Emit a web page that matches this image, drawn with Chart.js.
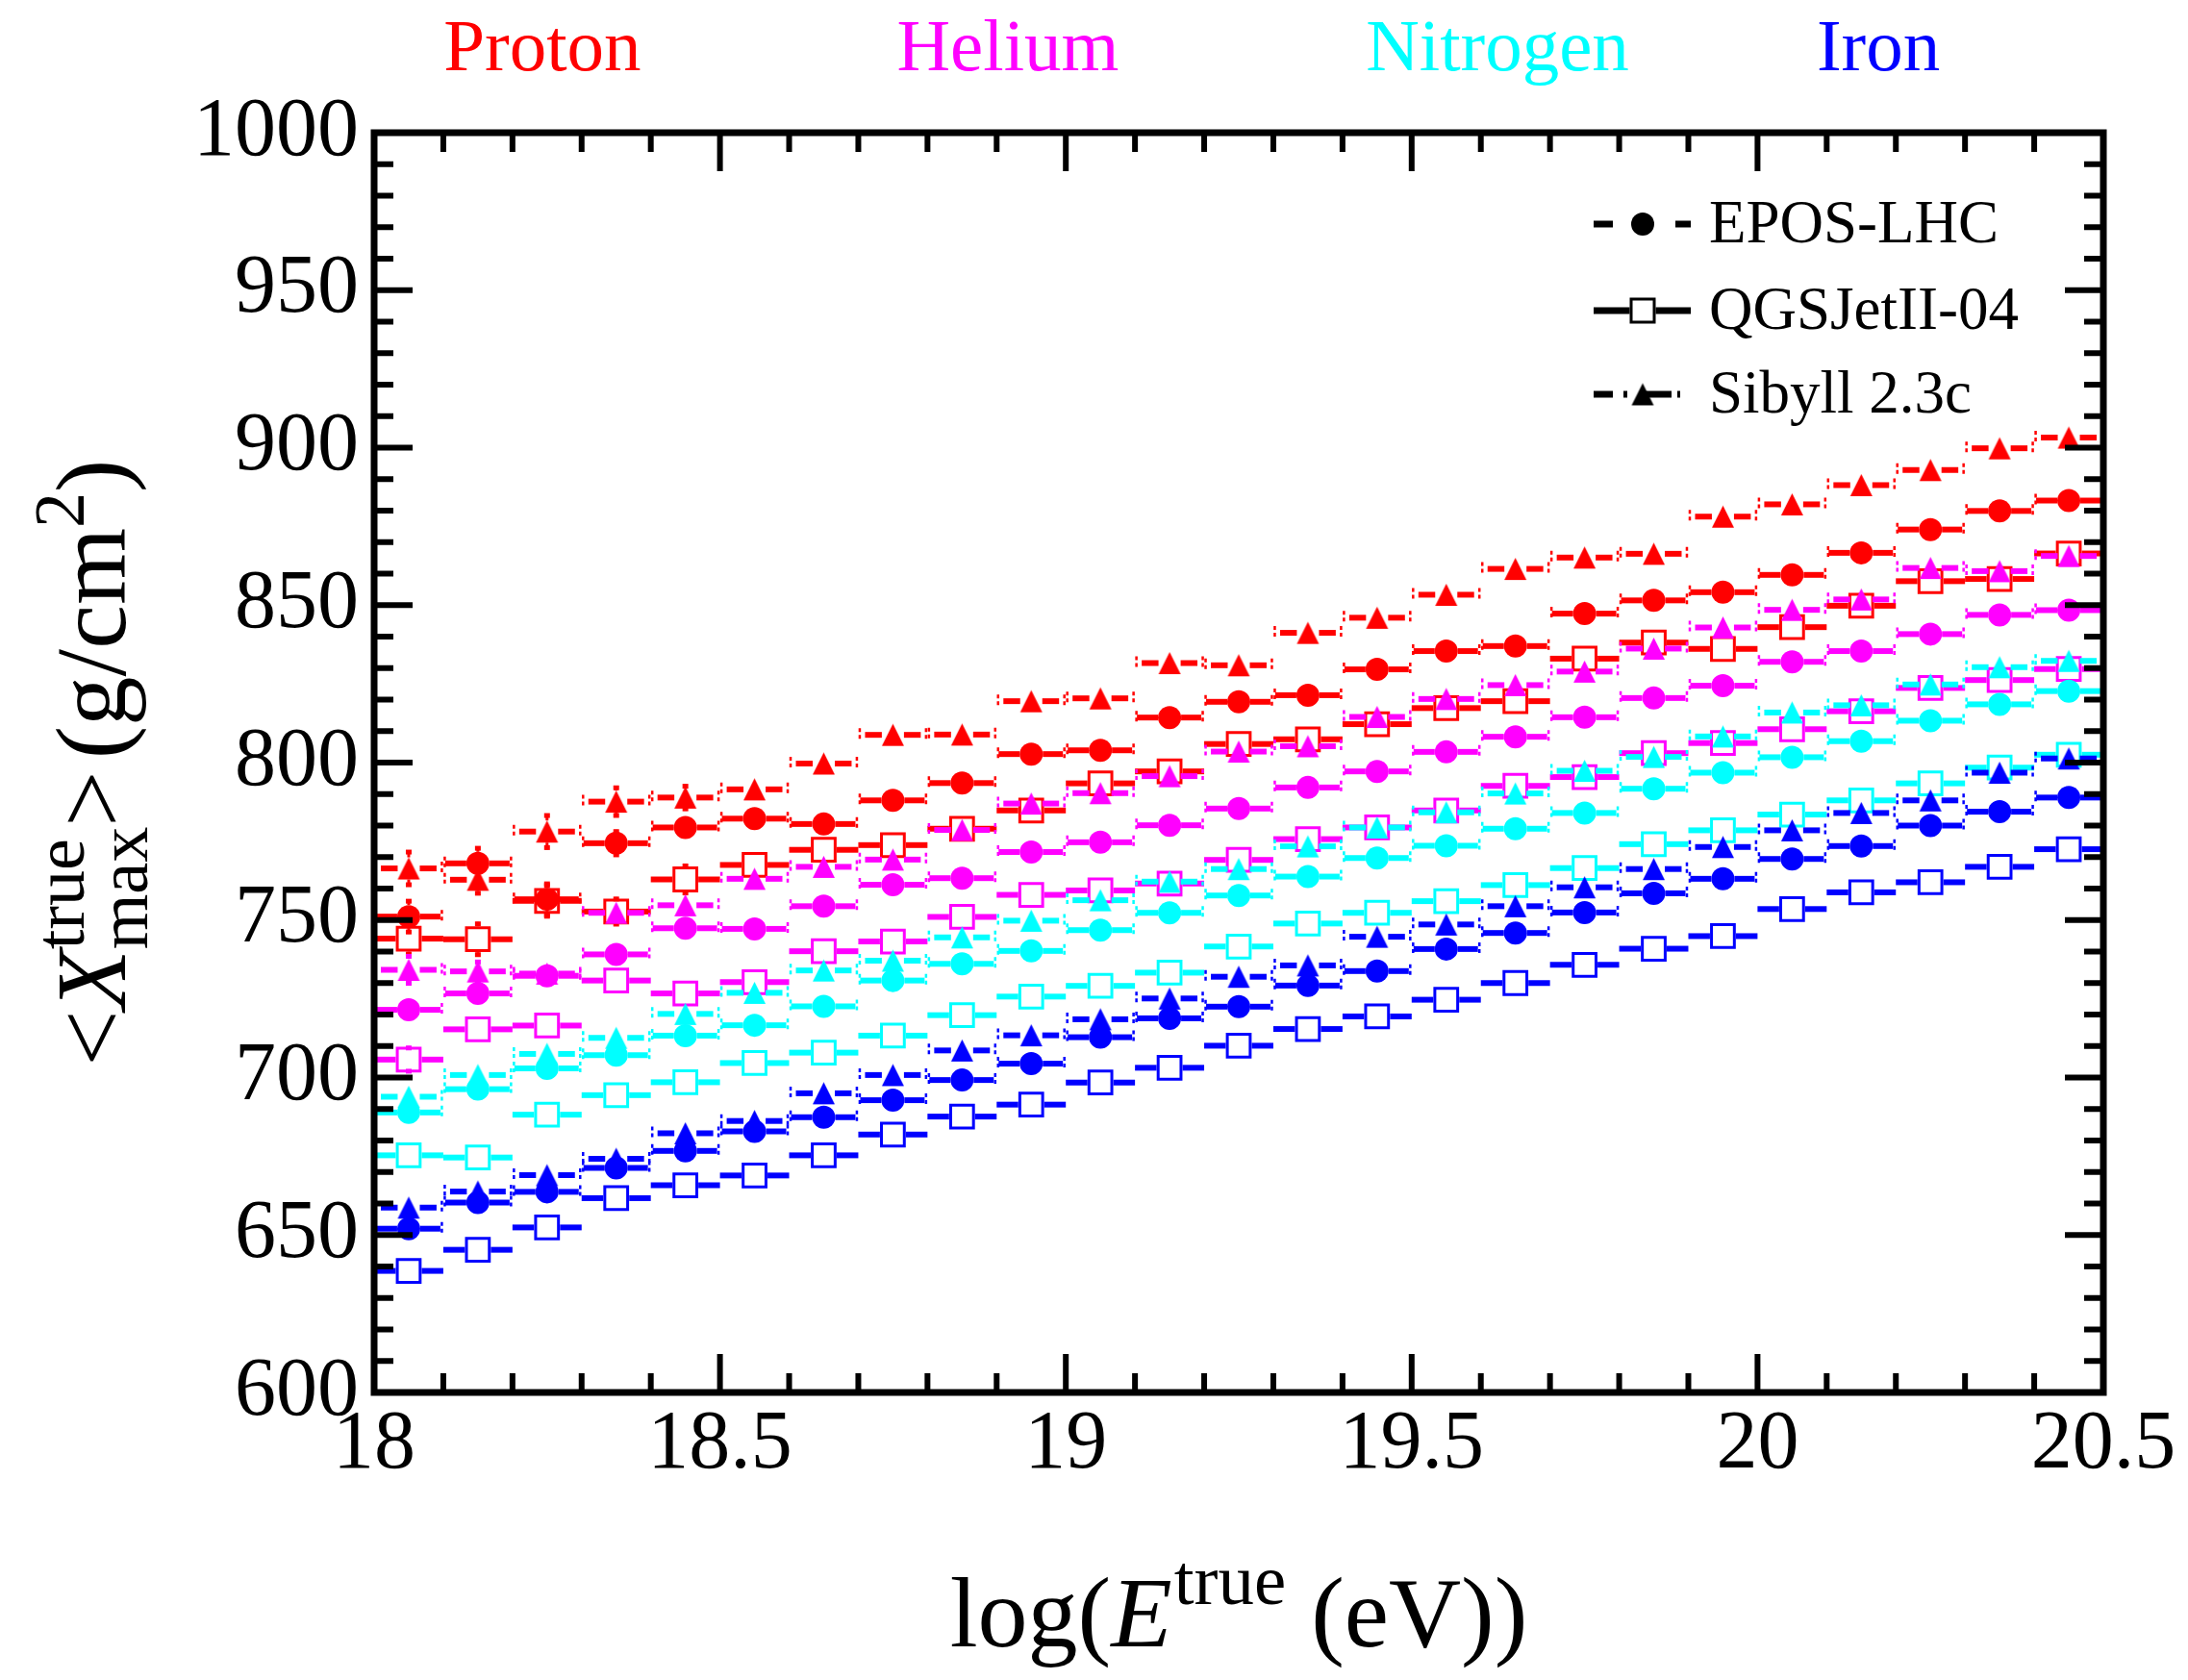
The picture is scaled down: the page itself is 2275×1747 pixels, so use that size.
<!DOCTYPE html>
<html>
<head>
<meta charset="utf-8">
<script src="https://cdn.jsdelivr.net/npm/chart.js@4.4.0/dist/chart.umd.min.js"></script>
<style>
html,body{margin:0;padding:0;background:#fff;overflow:hidden;}
#c{display:block;width:2275px;height:1747px;}
</style>
</head>
<body>
<canvas id="c" width="2275" height="1747"></canvas>
<script>
// ---------------- DATA ----------------
const energyBins = [18.05,18.15,18.25,18.35,18.45,18.55,18.65,18.75,18.85,18.95,19.05,19.15,19.25,19.35,19.45,19.55,19.65,19.75,19.85,19.95,20.05,20.15,20.25,20.35,20.45];
const binHalfWidth = 0.05;

const primaries = ['Proton','Helium','Nitrogen','Iron'];
const models = ['EPOS-LHC','QGSJetII-04','Sibyll 2.3c'];

// EPOS-LHC (filled circles)
const eposProton   = [751.1,768.0,756.6,774.4,779.4,782.2,780.5,788.0,793.5,802.7,803.9,814.3,819.3,821.4,829.6,835.4,837.0,847.3,851.5,854.1,859.6,866.6,874.0,879.9,883.2];
const eposHelium   = [721.5,726.7,732.3,739.1,747.4,747.2,754.4,761.2,763.3,771.6,774.7,780.1,785.4,792.1,797.2,803.4,808.2,814.4,820.5,824.4,832.0,835.4,840.8,846.9,848.4];
const eposNitrogen = [688.9,696.3,702.9,707.1,713.3,716.6,722.6,730.8,736.1,740.2,746.8,752.3,757.8,763.8,769.7,773.6,779.0,784.0,791.7,796.8,801.7,806.8,813.3,818.5,822.7];
const eposIron     = [652.0,660.3,663.7,671.3,676.7,682.9,687.4,692.8,699.2,704.4,712.8,718.8,722.5,729.2,733.8,740.8,745.9,752.4,758.5,763.1,769.4,773.5,780.0,784.4,788.9];

// QGSJetII-04 (open squares)
const qgsProton   = [744.1,743.9,756.1,752.7,762.9,767.5,772.3,773.8,779.0,784.8,793.4,797.2,805.9,807.4,812.2,817.3,819.5,833.0,838.1,836.1,843.0,849.8,857.6,858.3,866.4];
const qgsHelium   = [705.7,715.3,716.5,730.8,726.7,730.3,740.1,743.2,751.0,758.0,759.4,761.6,769.1,775.7,779.4,784.8,792.6,795.4,803.0,806.2,810.6,816.3,823.7,826.2,829.7];
const qgsNitrogen = [675.3,674.6,688.2,694.4,698.5,704.6,707.9,713.3,719.8,725.7,729.1,733.3,741.6,748.9,752.3,756.0,761.1,766.5,774.1,778.5,783.5,788.0,793.4,798.4,802.5];
const qgsIron     = [638.6,645.3,652.4,661.7,665.8,668.9,675.3,681.9,687.6,691.4,698.4,703.1,710.1,715.4,719.4,724.7,730.0,735.8,740.9,744.9,753.5,758.8,762.0,766.9,772.5];

// Sibyll 2.3c (filled triangles)
const sibyllProton   = [766.4,762.8,778.1,787.6,788.9,791.5,799.7,808.8,808.9,819.5,820.4,831.6,830.9,841.2,846.0,853.3,861.5,865.1,866.3,878.1,882.0,888.1,892.9,899.8,903.2];
const sibyllHelium   = [734.2,733.7,733.0,752.3,754.7,763.1,766.9,769.2,778.6,787.0,790.3,795.7,803.5,805.2,814.5,820.2,824.6,828.9,836.2,842.9,848.5,851.8,861.8,860.8,865.6];
const sibyllNitrogen = [693.9,700.8,707.5,712.6,720.2,726.9,734.0,737.1,744.5,749.8,756.3,762.2,766.2,773.4,779.4,784.2,790.2,797.4,801.8,808.3,815.9,818.2,824.8,830.3,832.3];
const sibyllIron     = [658.7,663.8,669.0,674.2,682.3,686.2,695.0,700.8,708.6,713.4,718.5,725.1,732.0,735.6,744.7,748.6,754.4,760.4,766.2,773.2,778.5,784.0,788.0,796.8,801.3];

// statistical errors on <Xmax> (g/cm^2), visible only at the lowest energies
const errEposProton   = [5.5,5.4,5.5,4.3,3.4,3.1,3.0,2.8,2.9,2.7,2.6,2.6,2.5,2.4,2.4,2.3,2.3,2.2,2.2,2.1,2.1,2.0,2.0,2.0,1.9];
const errQgsProton    = [5.5,5.5,5.5,4.6,4.9,3.4,3.2,3.0,2.9,2.8,2.7,2.6,2.6,2.5,2.4,2.4,2.3,2.3,2.2,2.2,2.1,2.1,2.0,2.0,2.0];
const errSibyllProton = [5.8,4.9,5.7,5.0,4.2,3.3,3.1,3.0,2.9,2.8,2.7,2.6,2.6,2.5,2.4,2.4,2.3,2.3,2.2,2.2,2.1,2.1,2.1,2.0,2.0];
const errEposHelium   = [3.4,3.2,3.0,2.9,2.8,2.7,2.6,2.5,2.5,2.4,2.3,2.3,2.2,2.2,2.1,2.1,2.0,2.0,2.0,1.9,1.9,1.9,1.8,1.8,1.8];
const errQgsHelium    = [4.3,3.5,3.2,3.0,2.9,2.8,2.7,2.6,2.5,2.5,2.4,2.3,2.3,2.2,2.2,2.1,2.1,2.0,2.0,2.0,1.9,1.9,1.9,1.8,1.8];
const errSibyllHelium = [4.9,3.6,3.3,3.2,3.0,2.9,2.8,2.7,2.6,2.5,2.5,2.4,2.3,2.3,2.2,2.2,2.1,2.1,2.0,2.0,2.0,1.9,1.9,1.9,1.8];

const xTickValues = [18, 18.5, 19, 19.5, 20, 20.5];
const yTickValues = [600, 650, 700, 750, 800, 850, 900, 950, 1000];
const xTickLabels = ['18', '18.5', '19', '19.5', '20', '20.5'];
const yTickLabels = ['600', '650', '700', '750', '800', '850', '900', '950', '1000'];

// ---------------- STYLE ----------------
const primaryColors = ['#ff0000', '#ff00ff', '#00ffff', '#0000ff'];
const FONT = '"Liberation Serif", "Times New Roman", serif';
const modelStyles = [
  { marker: 'circle',   bar: 'dashed',  gap: 12 },
  { marker: 'square',   bar: 'solid',   gap: 13.5 },
  { marker: 'triangle', bar: 'dashdot', gap: 11.5 }
];

const seriesTable = [
  [0, 0, eposProton, errEposProton], [0, 1, qgsProton, errQgsProton], [0, 2, sibyllProton, errSibyllProton],
  [1, 0, eposHelium, errEposHelium], [1, 1, qgsHelium, errQgsHelium], [1, 2, sibyllHelium, errSibyllHelium],
  [2, 0, eposNitrogen, null], [2, 1, qgsNitrogen, null], [2, 2, sibyllNitrogen, null],
  [3, 0, eposIron, null], [3, 1, qgsIron, null], [3, 2, sibyllIron, null]
];

function makeTriangle(color) {
  const cv = document.createElement('canvas');
  cv.width = 25; cv.height = 25;
  const c = cv.getContext('2d');
  c.fillStyle = color;
  c.beginPath();
  c.moveTo(12.5, 1); c.lineTo(24, 24); c.lineTo(1, 24); c.closePath();
  c.fill();
  return cv;
}

function buildDatasets() {
  const list = seriesTable.map(([p, m, values, errs]) => {
    const color = primaryColors[p];
    const st = modelStyles[m];
    const ds = {
      label: models[m] + ' ' + primaries[p],
      data: energyBins.map((e, i) => ({ x: e, y: values[i], err: errs ? errs[i] : 0 })),
      barColor: color,
      barStyle: st.bar,
      barGap: st.gap,
      pointHoverRadius: 0
    };
    if (st.marker === 'circle') {
      Object.assign(ds, { pointStyle: 'circle', pointRadius: 12, pointBackgroundColor: color, pointBorderColor: color, pointBorderWidth: 0 });
    } else if (st.marker === 'square') {
      Object.assign(ds, { pointStyle: 'rect', pointRadius: 16.8, pointBackgroundColor: 'rgba(0,0,0,0)', pointBorderColor: color, pointBorderWidth: 3 });
    } else {
      Object.assign(ds, { pointStyle: makeTriangle(color), pointRadius: 12, pointBackgroundColor: color, pointBorderColor: color, pointBorderWidth: 0 });
    }
    return ds;
  });
  // Chart.js paints dataset 0 last (on top): reverse so iron is on top
  return list.reverse();
}

// ---------------- PLUGINS ----------------
function seg(ctx, x1, y1, x2, y2) {
  ctx.beginPath(); ctx.moveTo(x1, y1); ctx.lineTo(x2, y2); ctx.stroke();
}

const errorBarPlugin = {
  id: 'errorBars',
  beforeDatasetDraw(chart, args) {
    const ds = chart.data.datasets[args.index];
    const xs = chart.scales.x, ys = chart.scales.y;
    const ctx = chart.ctx;
    ctx.save();
    ctx.strokeStyle = ds.barColor;
    ctx.lineCap = 'butt';
    args.meta.data.forEach((pt, i) => {
      const raw = ds.data[i];
      const xc = pt.x, yc = pt.y, g = ds.barGap;
      const xl = xs.getPixelForValue(raw.x - binHalfWidth);
      const xr = xs.getPixelForValue(raw.x + binHalfWidth);
      ctx.setLineDash([]);
      ctx.lineWidth = 6;
      let inL = 0, inR = 0;
      if (ds.barStyle === 'dashed') { inL = 2; inR = 3; }
      if (ds.barStyle === 'dashdot') { inL = 7; inR = 7; }
      if (xc - g > xl + inL) seg(ctx, xl + inL, yc, xc - g, yc);
      if (xr - inR > xc + g) seg(ctx, xc + g, yc, xr - inR, yc);
      if (ds.barStyle !== 'solid') {
        ctx.lineWidth = 2.5;
        ctx.setLineDash([4, 3]);
        seg(ctx, xl + 1.5, yc - 7, xl + 1.5, yc + 7);
        seg(ctx, xr - 1.5, yc - 7, xr - 1.5, yc + 7);
        ctx.setLineDash([]);
      }
      if (raw.err) {
        const yt = ys.getPixelForValue(raw.y + raw.err);
        const yb = ys.getPixelForValue(raw.y - raw.err);
        ctx.lineWidth = 3;
        if (yc - yt > g) {
          seg(ctx, xc, yc - g, xc, yt);
          ctx.lineWidth = 5; seg(ctx, xc - 3, yt + 2, xc + 3, yt + 2); ctx.lineWidth = 3;
        }
        if (yb - yc > g) {
          seg(ctx, xc, yc + g, xc, yb);
          ctx.lineWidth = 5; seg(ctx, xc - 3, yb - 2, xc + 3, yb - 2); ctx.lineWidth = 3;
        }
      }
    });
    ctx.restore();
  }
};

const framePlugin = {
  id: 'frame',
  afterDatasetsDraw(chart) {
    const { ctx, chartArea: a, scales: { x, y } } = chart;
    ctx.save();
    ctx.strokeStyle = '#000';
    ctx.lineCap = 'butt';
    ctx.lineWidth = 6;
    // x ticks (minor each 0.1, major each 0.5) on bottom and top, pointing inward
    for (let k = 1; k < 25; k++) {
      const v = 18 + k * 0.1;
      const major = k % 5 === 0;
      const len = major ? 40 : 20;
      const px = x.getPixelForValue(v);
      seg(ctx, px, a.bottom, px, a.bottom - len);
      seg(ctx, px, a.top, px, a.top + len);
    }
    // y ticks (minor each 10, major each 50) on left and right
    for (let k = 1; k < 40; k++) {
      const v = 600 + k * 10;
      const major = k % 5 === 0;
      const len = major ? 40 : 20;
      const py = y.getPixelForValue(v);
      seg(ctx, a.left, py, a.left + len, py);
      seg(ctx, a.right, py, a.right - len, py);
    }
    ctx.lineWidth = 7;
    ctx.lineJoin = 'miter';
    ctx.strokeRect(a.left, a.top, a.right - a.left, a.bottom - a.top);
    ctx.restore();
  }
};

function runFont(size, italic) {
  return (italic ? 'italic ' : '') + size + 'px ' + FONT;
}
// draw a run of text pieces centred on (ox, oy) along the baseline, optionally rotated
function drawRich(ctx, runs, ox, oy, base, rotated) {
  const widths = runs.map(r => {
    if (r.stack) {
      return Math.max(...r.stack.map(s => { ctx.font = runFont(base * s.scale, s.italic); return ctx.measureText(s.t).width; }));
    }
    ctx.font = runFont(base * (r.scale || 1), r.italic);
    return ctx.measureText(r.t).width + (r.extra || 0) * base;
  });
  const total = widths.reduce((s, w) => s + w, 0);
  ctx.save();
  ctx.translate(ox, oy);
  if (rotated) ctx.rotate(-Math.PI / 2);
  ctx.fillStyle = '#000';
  ctx.textBaseline = 'alphabetic';
  ctx.textAlign = 'left';
  let xpos = -total / 2;
  runs.forEach((r, i) => {
    const parts = r.stack ? r.stack : [r];
    parts.forEach(s => {
      ctx.font = runFont(base * (s.scale || 1), s.italic);
      ctx.fillText(s.t, xpos, (s.dy || 0) * base);
    });
    xpos += widths[i];
  });
  ctx.restore();
}

const textPlugin = {
  id: 'texts',
  afterDraw(chart) {
    const { ctx, chartArea: a } = chart;
    const W = a.right - a.left;
    // primary labels above the frame
    const titleFrac = [0.0973, 0.3665, 0.6496, 0.8699];
    ctx.save();
    ctx.font = '77px ' + FONT;
    ctx.textAlign = 'center';
    ctx.textBaseline = 'alphabetic';
    primaries.forEach((p, i) => {
      ctx.fillStyle = primaryColors[i];
      ctx.fillText(p, a.left + titleFrac[i] * W, 73);
    });
    ctx.restore();

    // x-axis title
    drawRich(ctx, [
      { t: 'log(' },
      { t: 'E', italic: true, extra: 0.02 },
      { t: 'true', scale: 0.72, dy: -0.42 },
      { t: ' (eV))' }
    ], (a.left + a.right) / 2, a.bottom + 264, 104, false);

    // y-axis title (rotated)
    drawRich(ctx, [
      { t: '<' },
      { t: 'X', italic: true },
      { stack: [ { t: 'true', scale: 0.72, dy: -0.42 }, { t: 'max', scale: 0.72, dy: 0.22 } ] },
      { t: '>' },
      { t: '', extra: 0.12 },
      { t: '(g/cm' },
      { t: '2', scale: 0.72, dy: -0.42 },
      { t: ')' }
    ], 130, (a.top + a.bottom) / 2, 103, true);

    // legend
    const L = { x0: 1657, x1: 1758, xm: 1708, xt: 1777, rows: [233, 323, 410] };
    ctx.save();
    ctx.strokeStyle = '#000';
    ctx.fillStyle = '#000';
    ctx.lineWidth = 7;
    ctx.lineCap = 'butt';
    // EPOS
    let ry = L.rows[0];
    seg(ctx, L.x0, ry, L.x0 + 20, ry);
    seg(ctx, L.x1 - 16, ry, L.x1, ry);
    ctx.beginPath(); ctx.arc(L.xm, ry, 12, 0, Math.PI * 2); ctx.fill();
    // QGSJet
    ry = L.rows[1];
    seg(ctx, L.x0, ry, L.xm - 13.5, ry);
    seg(ctx, L.xm + 13.5, ry, L.x1, ry);
    ctx.lineWidth = 3;
    ctx.strokeRect(L.xm - 12, ry - 12, 24, 24);
    ctx.lineWidth = 7;
    // Sibyll
    ry = L.rows[2];
    seg(ctx, L.x0, ry, L.x0 + 20, ry);
    seg(ctx, L.x0 + 31, ry, L.x0 + 35, ry);
    seg(ctx, L.xm + 2, ry, L.x1 - 20, ry);
    seg(ctx, L.x1 - 14, ry, L.x1 - 11, ry);
    ctx.drawImage(makeTriangle('#000'), L.xm - 12.5, ry - 12.5);
    ctx.font = '63px ' + FONT;
    ctx.textAlign = 'left';
    ctx.textBaseline = 'middle';
    models.forEach((m, i) => ctx.fillText(m, L.xt, L.rows[i] + 2));
    ctx.restore();
  }
};

// ---------------- CHART ----------------
let built = false;
function build() {
  if (built) return;
  built = true;
  new Chart(document.getElementById('c'), {
    type: 'scatter',
    data: { datasets: buildDatasets() },
    options: {
      responsive: false,
      animation: false,
      devicePixelRatio: 1,
      events: [],
      layout: { padding: { left: 0, right: 88, top: 138, bottom: 0 } },
      plugins: { legend: { display: false }, tooltip: { enabled: false }, title: { display: false } },
      scales: {
        x: {
          type: 'linear', min: 18, max: 20.5,
          afterFit(s) { s.height = 299; },
          afterBuildTicks(s) { s.ticks = xTickValues.map(v => ({ value: v })); },
          grid: { display: false, drawTicks: false },
          border: { display: false },
          ticks: {
            font: { family: FONT, size: 86 }, color: '#000', padding: 4,
            maxRotation: 0, minRotation: 0, autoSkip: false,
            callback: (v) => xTickLabels[xTickValues.indexOf(v)] ?? String(v)
          }
        },
        y: {
          type: 'linear', min: 600, max: 1000,
          afterFit(s) { s.width = 389; },
          afterBuildTicks(s) { s.ticks = yTickValues.map(v => ({ value: v })); },
          grid: { display: false, drawTicks: false },
          border: { display: false },
          ticks: {
            font: { family: FONT, size: 86 }, color: '#000', padding: 16, autoSkip: false,
            callback: (v) => yTickLabels[yTickValues.indexOf(v)] ?? String(v)
          }
        }
      }
    },
    plugins: [errorBarPlugin, framePlugin, textPlugin]
  });
}
const fontLoads = [
  '86px "Liberation Serif"', 'italic 104px "Liberation Serif"', '63px "Liberation Serif"'
].map(f => document.fonts.load(f).catch(() => null));
Promise.all(fontLoads).then(build, build);
setTimeout(build, 1500);
</script>
</body>
</html>
